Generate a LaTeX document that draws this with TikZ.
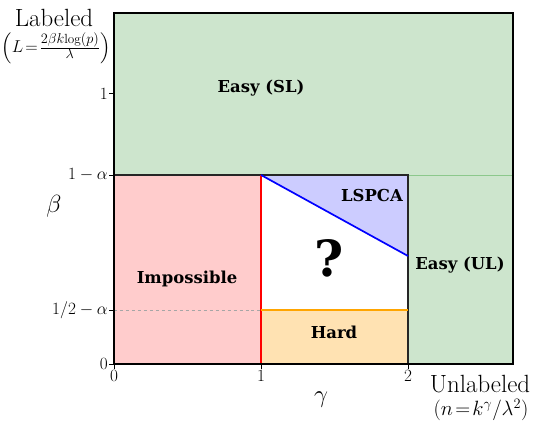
\documentclass[tikz,border=0pt]{standalone}
\usepackage{amsmath}
\usepackage{fontspec}
\newfontfamily\dvs{DejaVu Serif}
\definecolor{easyg}{RGB}{205,229,205}
\definecolor{gline}{RGB}{140,200,140}
\definecolor{impr}{RGB}{255,204,204}
\definecolor{lsb}{RGB}{204,204,255}
\definecolor{hardo}{RGB}{255,226,178}
\definecolor{orline}{RGB}{255,165,0}
\tikzset{
  region/.style={font=\dvs\bfseries\fontsize{16.5}{18}\selectfont, inner sep=0pt},
  ticklab/.style={font=\fontsize{17}{19}\selectfont, inner sep=1pt},
  tickmark/.style={line width=1bp, black},
  axislab/.style={font=\fontsize{40}{42}\selectfont, inner sep=0pt},
  sidelab/.style={font=\fontsize{25}{27}\selectfont, inner sep=0pt},
}
\begin{document}
\begin{tikzpicture}[x=1bp,y=1bp]
\useasboundingbox (0,0) rectangle (534,425);
\begin{scope}[shift={(114,61)}, x=147bp, y=270bp]
  \coordinate (O) at (0,0);
  \coordinate (TR) at (2.714,1.3);
  \coordinate (A1) at (1,0);
  \coordinate (A2) at (2,0);
  \coordinate (B07) at (0,0.7);
  \coordinate (B02) at (0,0.2);
  \coordinate (C107) at (1,0.7);
  \coordinate (C102) at (1,0.2);
  \coordinate (C207) at (2,0.7);
  \coordinate (C202) at (2,0.2);
  \coordinate (C204) at (2,0.4);
  \coordinate (R07) at (2.714,0.7);
  \fill[easyg] (O) rectangle (TR);
  \fill[impr] (O) rectangle (C107);
  \fill[hardo] (A1) rectangle (C202);
  \fill[white] (C102) rectangle (C207);
  \fill[lsb] (C107) -- (C207) -- (C204) -- cycle;
  \draw[gline, line width=1bp] (C207) -- (R07);
  \draw[gray!70, dashed, line width=1bp] (B02) -- (C102);
  \draw[black!85, line width=1.5bp] (O) rectangle (C207);
  \draw[red, line width=1.7bp] (A1) -- (C107);
  \draw[orline, line width=1.7bp] (C102) -- (C202);
  \draw[blue, line width=1.7bp] (C107) -- (C204);
  \draw[black, line width=1.6bp] (O) rectangle (TR);
  % ticks
  \foreach \v/\nm in {0/y0,0.2/y1,0.7/y2,1/y3}{
    \draw[tickmark] (0,\v) -- ++(-5bp,0) coordinate (\nm);
  }
  \foreach \u/\nm in {0/x0,1/x1,2/x2}{
    \draw[tickmark] (\u,0) -- ++(0,-5bp) coordinate (\nm);
  }
\end{scope}
\node[ticklab, anchor=east] (ty0) at (y0) {$0$};
\node[ticklab, anchor=east] (ty1) at (y1) {$1/2-\alpha$};
\node[ticklab, anchor=east] (ty2) at (y2) {$1-\alpha$};
\node[ticklab, anchor=east] (ty3) at (y3) {$1$};
\node[ticklab, anchor=north] (tx0) at (x0) {$0$};
\node[ticklab, anchor=north] (tx1) at (x1) {$1$};
\node[ticklab, anchor=north] (tx2) at (x2) {$2$};
\node[region] (esl) at (261,337) {Easy (SL)};
\node[region] (lsp) at (372,229) {LSPCA};
\node[region, font=\dvs\bfseries\fontsize{50}{52}\selectfont] (q) at (329,167) {?};
\node[region] (imp) at (187,146) {Impossible};
\node[region] (hard) at (334,93) {Hard};
\node[region] (eul) at (460,160) {Easy (UL)};
\node[axislab] (beta) at (54,219) {$\beta$};
\node[axislab] (gam) at (321,25) {$\gamma$};
\node[sidelab] (lab) at (54,407) {Labeled};
\node[inner sep=0pt, font=\fontsize{19}{21}\selectfont] (labf) at (56,377) {$\left(L\!=\!\frac{2\beta k\!\log(p)}{\lambda}\right)$};
\node[sidelab] (unl) at (480,41) {Unlabeled};
\node[inner sep=0pt, font=\fontsize{20}{22}\selectfont] (unlf) at (481,15) {$(n\!=\!k^{\gamma}/\lambda^{2})$};
\end{tikzpicture}
\end{document}
